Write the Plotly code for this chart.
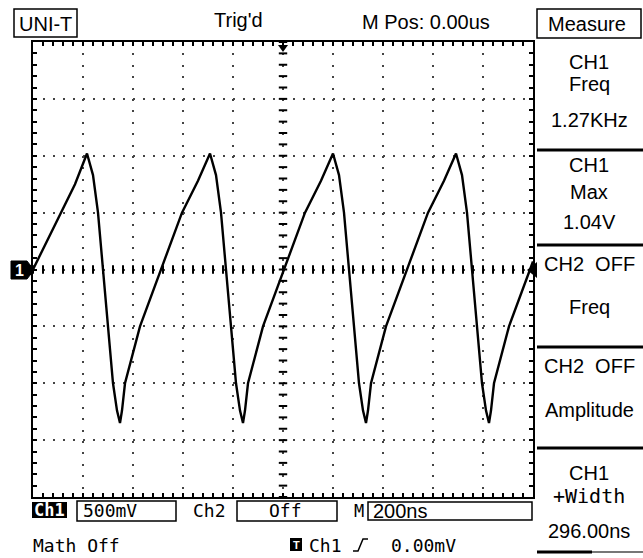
import numpy as np
import plotly.graph_objects as go

# ---- waveform (200 ns/div, 500 mV/div) ----
time_ns = [-1000, -944, -888, -832, -784, -760, -740, -720, -700, -680, -664, -652,
           -644, -632, -572, -488, -404, -340, -292,
           -268, -248, -228, -208, -188, -172, -160,
           -152, -140, -80, 4, 88, 152, 200,
           224, 244, 264, 284, 304, 320, 332,
           340, 352, 412, 496, 580, 644, 692,
           716, 736, 756, 776, 796, 812, 824,
           832, 844, 904, 988, 1000]
ch1_volts = [0.0, 0.25, 0.5, 0.75, 1.02, 0.83, 0.5, 0.0, -0.5, -1.0, -1.24, -1.35,
             -1.24, -1.0, -0.5, 0.0, 0.5, 0.78, 1.02,
             0.83, 0.5, 0.0, -0.5, -1.0, -1.24, -1.35,
             -1.24, -1.0, -0.5, 0.0, 0.5, 0.78, 1.02,
             0.83, 0.5, 0.0, -0.5, -1.0, -1.24, -1.35,
             -1.24, -1.0, -0.5, 0.0, 0.5, 0.78, 1.02,
             0.83, 0.5, 0.0, -0.5, -1.0, -1.24, -1.35,
             -1.24, -1.0, -0.5, 0.0, 0.07]

# ---- screen texts ----
top_labels = ["UNI-T", "Trig'd", "M Pos: 0.00us"]
measure_title = "Measure"
measure_items = [["CH1", "Freq", "1.27KHz"], ["CH1", "Max", "1.04V"],
                 ["CH2  OFF", "Freq"], ["CH2  OFF", "Amplitude"],
                 ["CH1", "+Width", "296.00ns"]]
ch1_scale = "500mV"
ch2_scale = "Off"
time_base = "200ns"
trig_level = "0.00mV"

W, H = 643, 558
L, R, T, B = 33, 533, 42, 497
SANS = "Liberation Sans, Arial, sans-serif"
MONO = "DejaVu Sans Mono, Liberation Mono, monospace"


def px(x):
    return (x - L) / (R - L)


def py(y):
    return (B - y) / (B - T)


fig = go.Figure()

# centre-line tick marks
fig.add_trace(go.Scatter(x=np.arange(-1000, 1001, 40), y=np.zeros(51), mode="markers",
                         marker=dict(symbol="line-ns", size=6, line=dict(width=2, color="black")),
                         hoverinfo="skip", showlegend=False))
fig.add_trace(go.Scatter(x=np.zeros(41), y=np.round(np.arange(-2, 2.001, 0.1), 2), mode="markers",
                         marker=dict(symbol="line-ew", size=6, line=dict(width=2, color="black")),
                         hoverinfo="skip", showlegend=False))

# the waveform
fig.add_trace(go.Scatter(x=time_ns, y=ch1_volts, mode="lines",
                         line=dict(color="black", width=2.4),
                         hoverinfo="skip", showlegend=False))

axis_common = dict(showline=True, linewidth=2, linecolor="black", mirror="allticks",
                   ticks="inside", ticklen=4, tickwidth=2, tickcolor="black",
                   showticklabels=False, zeroline=False, showgrid=True,
                   gridcolor="#444444", gridwidth=2, fixedrange=True)

fig.update_xaxes(range=[-1000, 1000], tick0=0, dtick=200, griddash="2px,9.4px",
                 minor=dict(dtick=40, ticks="inside", ticklen=4, tickwidth=2,
                            tickcolor="black", showgrid=False), **axis_common)
fig.update_yaxes(range=[-2, 2], tick0=0, dtick=0.5, griddash="2px,8px",
                 minor=dict(dtick=0.1, ticks="inside", ticklen=4, tickwidth=2,
                            tickcolor="black", showgrid=False), **axis_common)

shapes = []
ann = []


def rect(x0, y0, x1, y1, fill=None, lw=1.5):
    shapes.append(dict(type="rect", xref="paper", yref="paper",
                       x0=px(x0), x1=px(x1), y0=py(y1), y1=py(y0),
                       line=dict(color="black", width=lw),
                       fillcolor=fill if fill else "rgba(0,0,0,0)"))


def hline(x0, x1, y, lw=3, color="black"):
    shapes.append(dict(type="line", xref="paper", yref="paper",
                       x0=px(x0), x1=px(x1), y0=py(y), y1=py(y),
                       line=dict(color=color, width=lw)))


def poly(points, fill="black", lw=0):
    d = "M " + " L ".join(f"{px(a):.5f},{py(b):.5f}" for a, b in points) + " Z"
    shapes.append(dict(type="path", xref="paper", yref="paper", path=d,
                       fillcolor=fill, line=dict(color="black", width=lw)))


def text(s, x, y, xanchor="center", size=20, font=SANS, color="black"):
    ann.append(dict(text=s, xref="paper", yref="paper", x=px(x), y=py(y),
                    xanchor=xanchor, yanchor="middle", showarrow=False,
                    font=dict(family=font, size=size, color=color)))


# top bar
rect(14, 9, 77, 37)
text(top_labels[0], 45.5, 24)
text(top_labels[1], 238, 20)
text(top_labels[2], 426, 22)
rect(537, 9, 641, 38)
text(measure_title, 587, 24)

# right measure panel
for yy in (150, 245, 347, 448):
    hline(537, 643, yy)
hline(537, 592, 552, lw=3)
hline(592, 643, 552, lw=2, color="#777777")
panel_rows = [[62, 84, 120], [165, 192, 222], [264, 307], [366, 410], [473, 496, 531]]
for items, ys in zip(measure_items, panel_rows):
    for s, yy in zip(items, ys):
        text(s, 589, yy, font=(MONO if s == "+Width" else SANS))

# markers
poly([(11, 261), (27, 261), (34, 270), (27, 279), (11, 279)], lw=1)
text("<b>1</b>", 19.5, 270.5, size=16, color="white")
poly([(278, 45), (288, 45), (283, 52)])
poly([(537, 262), (537, 278), (527, 270)])

# bottom bar
rect(32, 502, 67, 518, fill="black", lw=0)
text("<b>Ch1</b>", 49.5, 510, size=17, font=MONO, color="white")
rect(77, 501, 176, 521)
text(ch1_scale, 81, 511, xanchor="left", size=18, font=MONO)
text("Ch2", 209, 511, size=18, font=MONO)
rect(237, 501, 337, 521)
text(ch2_scale, 285, 511, size=18, font=MONO)
text("M", 359, 511, size=17, font=MONO)
rect(368, 502, 532, 520)
text(time_base, 371, 511, xanchor="left", size=20)
text("Math Off", 31, 545, xanchor="left", size=18, font=MONO)
rect(290, 538, 302, 551, fill="black", lw=0)
text("<b>T</b>", 296, 544.5, size=11, color="white")
text("Ch1", 307, 545, xanchor="left", size=18, font=MONO)
shapes.append(dict(type="path", xref="paper", yref="paper",
                   path=f"M {px(353)},{py(551)} L {px(358)},{py(551)} L {px(363)},{py(539)} L {px(368)},{py(539)}",
                   line=dict(color="black", width=1.5)))
text(trig_level, 389, 545, xanchor="left", size=18, font=MONO)

fig.update_layout(width=W, height=H, autosize=False,
                  margin=dict(l=L, r=W - R, t=T, b=H - B, pad=0),
                  paper_bgcolor="white", plot_bgcolor="white",
                  shapes=shapes, annotations=ann, showlegend=False)

fig.write_html("out.html", config={"displayModeBar": False},
               post_script="document.body.style.margin='0';document.body.style.overflow='hidden';")
